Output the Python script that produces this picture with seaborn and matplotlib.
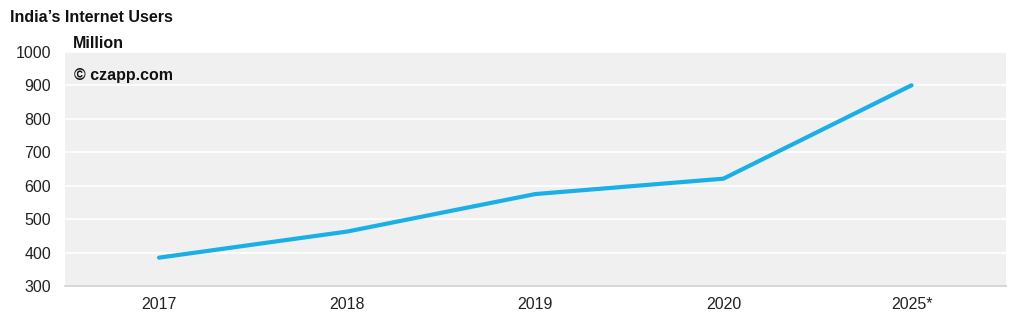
import matplotlib
matplotlib.use("Agg")
import matplotlib.pyplot as plt
import seaborn as sns
import pandas as pd

years = ["2017", "2018", "2019", "2020", "2025*"]
users = [385, 463, 575, 621, 900]
y_ticks = [300, 400, 500, 600, 700, 800, 900, 1000]

sns.set_theme(style="darkgrid")
plt.rcParams['font.family'] = ['Liberation Sans', 'DejaVu Sans']

df = pd.DataFrame({"year": years, "users": users})

fig = plt.figure(figsize=(10.24, 3.24), dpi=100)
ax = fig.add_axes([0.0635, 0.117, 0.9185, 0.723])
ax.set_facecolor("#f0f0f0")
sns.lineplot(data=df, x="year", y="users", ax=ax, color="#1aafe6", linewidth=3.0,
             sort=False)
ax.set_xlim(-0.5, 4.5)
ax.set_ylim(300, 1000)
ax.set_yticks(y_ticks)
ax.grid(axis="y", color="white", linewidth=1.2)
ax.grid(axis="x", visible=False)
for s in ["top", "right", "left"]:
    ax.spines[s].set_visible(False)
ax.spines["bottom"].set_visible(True)
ax.spines["bottom"].set_color("#d0d0d0")
ax.spines["bottom"].set_linewidth(1.2)
ax.set_xlabel("")
ax.set_ylabel("")
ax.tick_params(axis="both", labelsize=11.5, colors="#222222", length=0)
ax.tick_params(axis="y", pad=10)
ax.tick_params(axis="x", pad=8)

fig.text(0.01, 0.945, "India\u2019s Internet Users", fontsize=11.5, fontweight="bold",
         color="#111111", va="center", ha="left")
fig.text(0.071, 0.865, "Million", fontsize=11.5, fontweight="bold",
         color="#111111", va="center", ha="left")
ax.text(0.01, 0.9, "\u00a9 czapp.com", transform=ax.transAxes, fontsize=11.5,
        fontweight="bold", color="#111111", va="center", ha="left")

fig.savefig("out.png", dpi=100, facecolor="white")
